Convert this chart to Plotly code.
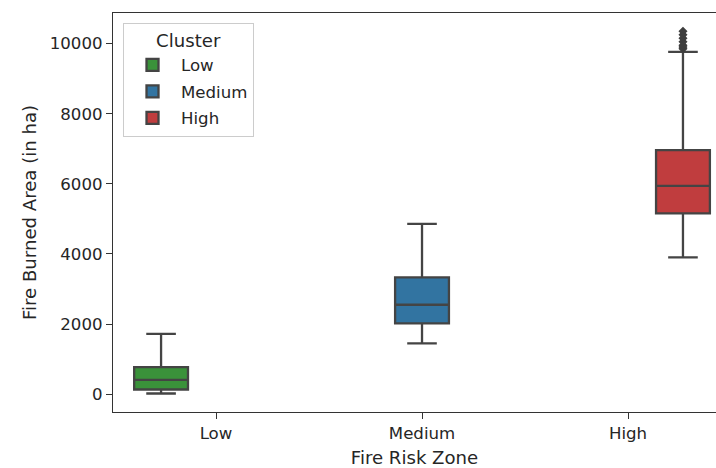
import plotly.graph_objects as go

# Data
zones = ["Low", "Medium", "High"]
clusters = ["Low", "Medium", "High"]
colors = ["#3a923a", "#3274a1", "#c03d3e"]

q1 = [134, 2020, 5155]
median = [409, 2551, 5942]
q3 = [771, 3334, 6959]
lower_fence = [20, 1449, 3901]
upper_fence = [1723, 4857, 9761]
outliers = [[], [], [9850, 9900, 9950, 10050, 10150, 10250, 10350]]
y_ticks = [0, 2000, 4000, 6000, 8000, 10000]

FONT = "DejaVu Sans"
LINE = "#444444"
TICK_SIZE = 16.6
LABEL_SIZE = 18.1

fig = go.Figure()
for i, name in enumerate(clusters):
    if outliers[i]:
        kw = dict(y=[outliers[i]], boxpoints="outliers", jitter=0, pointpos=0,
                  marker=dict(symbol="diamond", color="#3d3d3d", size=7,
                              line=dict(width=0)))
    else:
        kw = dict(boxpoints=False)
    fig.add_trace(go.Box(
        name=name,
        legendgroup=name,
        x=[zones[i]],
        q1=[q1[i]], median=[median[i]], q3=[q3[i]],
        lowerfence=[lower_fence[i]], upperfence=[upper_fence[i]],
        fillcolor=colors[i],
        line=dict(color=LINE, width=2.3),
        whiskerwidth=0.55,
        **kw,
    ))

fig.update_layout(
    width=716, height=468,
    margin=dict(l=113, r=0, t=13, b=56),
    paper_bgcolor="white", plot_bgcolor="white",
    font=dict(family=FONT, size=TICK_SIZE, color="#262626"),
    boxmode="group", boxgap=0.2, boxgroupgap=0.02,
    showlegend=True,
    legend=dict(
        title=dict(text="Cluster", side="top center", font=dict(size=LABEL_SIZE)),
        x=0.0166, y=0.975, xanchor="left", yanchor="top",
        bgcolor="rgba(255,255,255,0.8)", bordercolor="#cccccc", borderwidth=1,
        font=dict(size=TICK_SIZE), tracegroupgap=2, itemwidth=47,
    ),
)
fig.update_xaxes(
    type="category", categoryorder="array", categoryarray=zones,
    range=[-0.5, 2.427],
    showline=True, linecolor="#333333", linewidth=1.3, mirror=True,
    ticks="outside", ticklen=6, tickcolor="#333333", tickwidth=1.3,
    tickfont=dict(size=TICK_SIZE),
    showgrid=False, zeroline=False, automargin=False,
    title=dict(text="Fire Risk Zone", standoff=10, font=dict(size=LABEL_SIZE)),
)
fig.update_yaxes(
    range=[-507, 10872],
    tickvals=y_ticks, tickformat="d",
    showline=True, linecolor="#333333", linewidth=1.3, mirror=False,
    ticks="outside", ticklen=6, tickcolor="#333333", tickwidth=1.3,
    tickfont=dict(size=TICK_SIZE),
    showgrid=False, zeroline=False, automargin=False,
    title=dict(text="Fire Burned Area (in ha)", standoff=8, font=dict(size=LABEL_SIZE)),
)

fig.write_html("out.html", config={"displayModeBar": False},
               post_script="document.body.style.margin='0';")
